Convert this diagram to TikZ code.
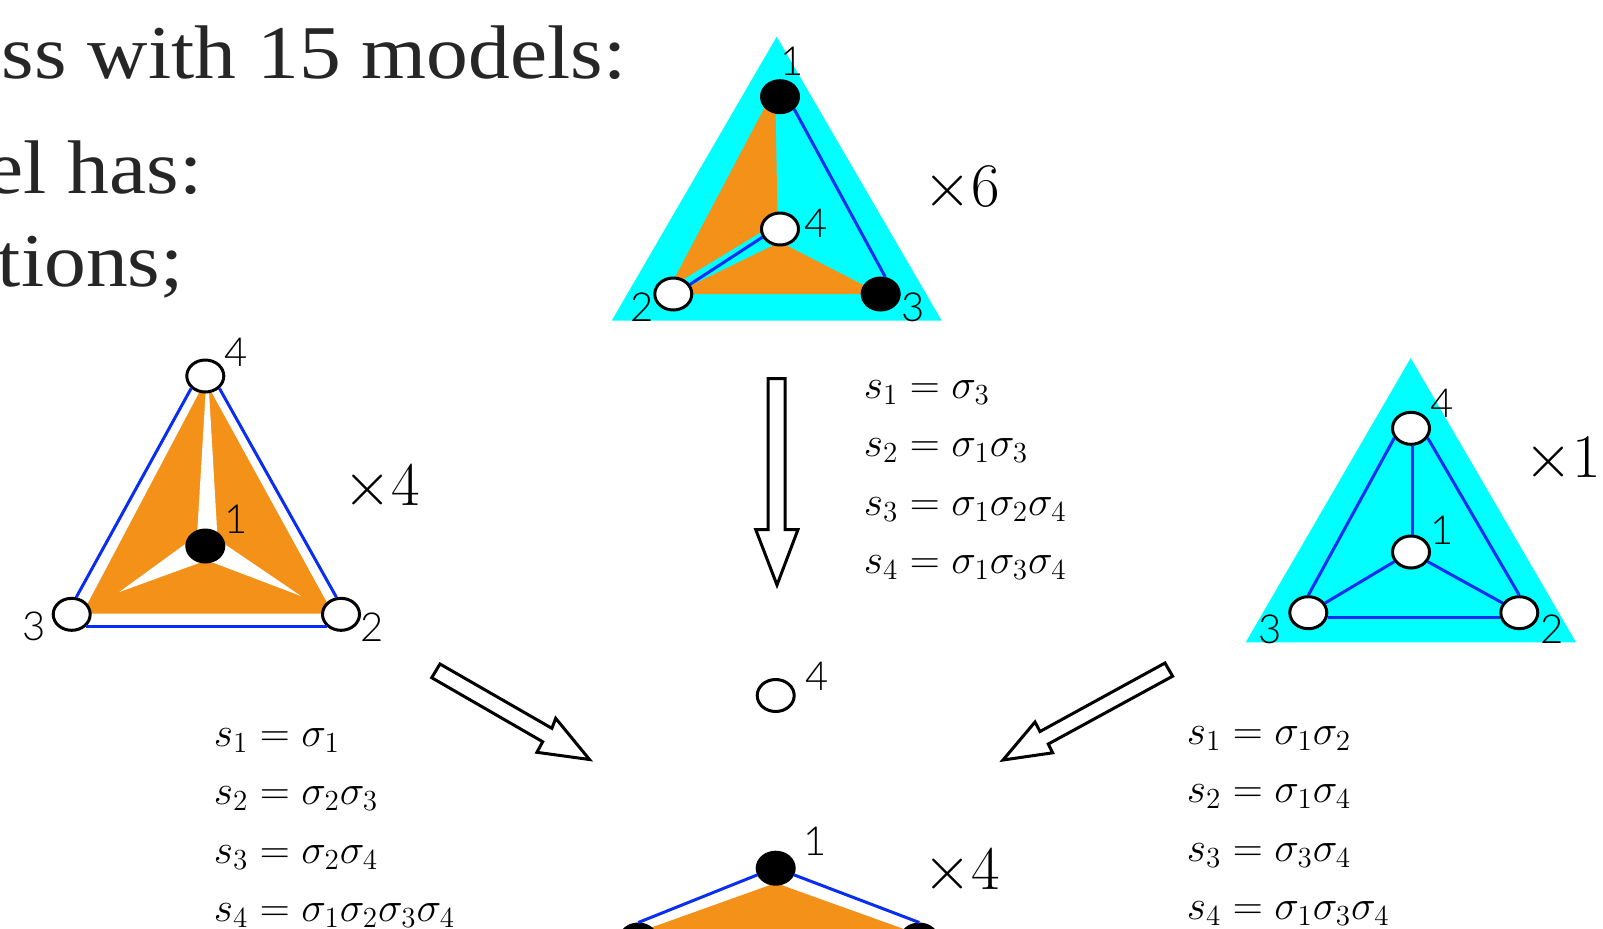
\documentclass[tikz,border=0pt]{standalone}
\usepackage{fix-cm}
\usepackage{fontspec}
\setmainfont[FakeStretch=1.1]{Liberation Serif}
\newfontfamily\labelfont{Lato Light}
\usetikzlibrary{shapes.geometric}
\definecolor{trianglecyan}{RGB}{0,255,255}
\definecolor{faceorange}{RGB}{243,145,24}
\definecolor{edgeblue}{RGB}{10,45,245}
\tikzset{
    whitevertex/.style={ellipse, draw=black, fill=white, line width=1.5pt, minimum width=18.5pt, minimum height=16pt, inner sep=0pt},
    blackvertex/.style={whitevertex, fill=black},
    vertexlabel/.style={font=\labelfont\fontsize{20}{20}\selectfont, inner sep=0pt},
    multiplicity/.style={font=\fontsize{31}{31}\selectfont, inner sep=0pt},
    relations/.style={font=\fontsize{20.8}{20.8}\selectfont, inner sep=0pt, anchor=base west},
    headline/.style={font=\fontsize{38}{38}\selectfont, text=black!85, inner sep=0pt, anchor=base east},
    edge/.style={edgeblue, line width=1.5pt},
    blockarrow/.style={draw=black, fill=white, line width=1.5pt, miter limit=10}
}
\begin{document}
\begin{tikzpicture}[x=0.5pt, y=-0.5pt]
    \useasboundingbox (0,0) rectangle (1603,928);
    \clip (0,0) rectangle (1603,928);

    % text cut off by the crop
    \node[headline] (line1) at (627,78) {ass with 15 models:};
    \node[headline] (line2) at (203,193.3) {el has:};
    \node[headline] (line3) at (184,286.7) {tions;};

    % top triangle
    \fill[trianglecyan] (776.7,36.7) -- (611.7,320.7) -- (941.7,320.7) -- cycle;
    \fill[faceorange] (770.3,96.7) -- (775.3,96.7) -- (777.7,226.7) -- (761.7,231.7) -- (685,278.3) -- (670,286.7) -- cycle;
    \fill[faceorange] (673.3,294) -- (780,242) -- (880.7,294) -- cycle;
    \node[blackvertex] (top1) at (780,96.7) {};
    \node[whitevertex] (top4) at (780,229) {};
    \node[whitevertex] (top2) at (673.3,294) {};
    \node[blackvertex] (top3) at (880.7,294) {};
    \draw[edge] (top1.south east) -- (top3.75);
    \draw[edge] (top2.30) -- (top4.205);
    \node[vertexlabel] (toplab1) at (791.7,61.7) {1};
    \node[vertexlabel] (toplab4) at (815.7,223) {4};
    \node[vertexlabel] (toplab2) at (641.7,307) {2};
    \node[vertexlabel] (toplab3) at (912.7,307) {3};
    \node[multiplicity] (topmult) at (962,188.7) {$\times 6$};

    % left triangle
    \fill[faceorange] (205.3,381) -- (82.3,613.7) -- (333,613.7) -- cycle;
    \fill[white] (205.7,391) -- (209,391) -- (217.3,534.3) -- (220,541) -- (301,596) -- (213.3,562.7) -- (200,562.7) -- (119.3,592) -- (191.7,539.3) -- (197.3,531) -- cycle;
    \node[whitevertex] (left4) at (205.3,376) {};
    \node[blackvertex] (left1) at (205.3,546) {};
    \node[whitevertex] (left3) at (71.7,614.3) {};
    \node[whitevertex] (left2) at (341,614.3) {};
    \draw[edge] (left4.south west) -- (left3.75);
    \draw[edge] (left4.south east) -- (left2.105);
    \draw[edge] (left3.-40) -- (left2.-140);
    \node[vertexlabel] (leftlab4) at (236,352.7) {4};
    \node[vertexlabel] (leftlab1) at (235.7,519) {1};
    \node[vertexlabel] (leftlab3) at (34,626.7) {3};
    \node[vertexlabel] (leftlab2) at (372,626.7) {2};
    \node[multiplicity] (leftmult) at (382,488) {$\times 4$};

    % right triangle
    \fill[trianglecyan] (1410.7,358) -- (1245.7,642.3) -- (1576,642.3) -- cycle;
    \node[whitevertex] (right4) at (1411,428.3) {};
    \node[whitevertex] (right1) at (1411,552) {};
    \node[whitevertex] (right3) at (1308.3,612.7) {};
    \node[whitevertex] (right2) at (1519.3,612.7) {};
    \draw[edge] (right4.-85) -- (right1.85);
    \draw[edge] (right4.210) -- (right3.north);
    \draw[edge] (right4.-30) -- (right2.north);
    \draw[edge] (right1.210) -- (right3.30);
    \draw[edge] (right1.-30) -- (right2.150);
    \draw[edge] (right3.-13) -- (right2.-167);
    \node[vertexlabel] (rightlab4) at (1442.3,403.3) {4};
    \node[vertexlabel] (rightlab1) at (1441.7,530) {1};
    \node[vertexlabel] (rightlab3) at (1270,629.3) {3};
    \node[vertexlabel] (rightlab2) at (1551.7,629.3) {2};
    \node[multiplicity] (rightmult) at (1563,460.3) {$\times 1$};

    % centre and bottom triangle
    \node[whitevertex] (mid4) at (775.7,695.5) {};
    \node[vertexlabel] (midlab4) at (817.3,676.7) {4};
    \fill[faceorange] (636,933) -- (775.7,883) -- (915,933) -- (915,940) -- (636,940) -- cycle;
    \node[blackvertex] (bot1) at (775.7,868.2) {};
    \node[blackvertex] (bot2) at (638.3,940) {};
    \node[blackvertex] (bot3) at (919.3,940) {};
    \draw[edge] (bot1.200) -- (bot2.north);
    \draw[edge] (bot1.-20) -- (bot3.north);
    \node[vertexlabel] (botlab1) at (815,841.7) {1};
    \node[multiplicity] (botmult) at (962,872) {$\times 4$};

    % arrows
    \draw[blockarrow] (768,378.5) -- (785,378.5) -- (785,529.5) -- (798,529.5) -- (777,585) -- (755.7,529.5) -- (768,529.5) -- cycle;
    \draw[blockarrow] (440,664) -- (551.9,728.3) -- (555.7,718.3) -- (589.5,759.5) -- (536.9,752.3) -- (542.7,741.7) -- (431.7,677.7) -- cycle;
    \draw[blockarrow] (1165,663) -- (1172.6,676.2) -- (1048.3,744) -- (1052.7,752.8) -- (1003,760) -- (1035,722) -- (1040,731.5) -- cycle;

    % relations
    \node[relations] (topeq1) at (863.5,398) {$s_1=\sigma_3$};
    \node[relations] (topeq2) at (863.5,456.5) {$s_2=\sigma_1\sigma_3$};
    \node[relations] (topeq3) at (863.5,515) {$s_3=\sigma_1\sigma_2\sigma_4$};
    \node[relations] (topeq4) at (863.5,573.5) {$s_4=\sigma_1\sigma_3\sigma_4$};
    \node[relations] (lefteq1) at (213.5,746) {$s_1=\sigma_1$};
    \node[relations] (lefteq2) at (213.5,804.5) {$s_2=\sigma_2\sigma_3$};
    \node[relations] (lefteq3) at (213.5,863) {$s_3=\sigma_2\sigma_4$};
    \node[relations] (lefteq4) at (213.5,921.5) {$s_4=\sigma_1\sigma_2\sigma_3\sigma_4$};
    \node[relations] (righteq1) at (1186.5,744) {$s_1=\sigma_1\sigma_2$};
    \node[relations] (righteq2) at (1186.5,802.5) {$s_2=\sigma_1\sigma_4$};
    \node[relations] (righteq3) at (1186.5,861) {$s_3=\sigma_3\sigma_4$};
    \node[relations] (righteq4) at (1186.5,919.5) {$s_4=\sigma_1\sigma_3\sigma_4$};
\end{tikzpicture}
\end{document}
